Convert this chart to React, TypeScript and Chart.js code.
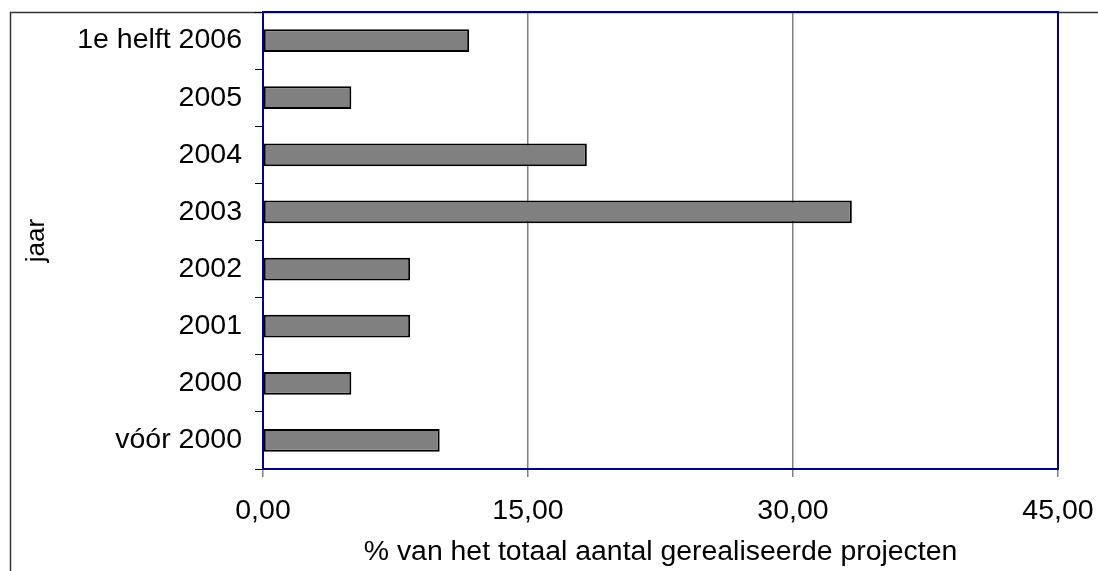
import React, { useEffect, useRef } from "react";
import { Chart, registerables } from "chart.js";

Chart.register(...registerables);

// Share of realised projects per year (percent of total)
const categories = [
  "1e helft 2006",
  "2005",
  "2004",
  "2003",
  "2002",
  "2001",
  "2000",
  "vóór 2000",
];
const shares = [11.67, 5.0, 18.33, 33.33, 8.33, 8.33, 5.0, 10.0];
const xTicks = [0, 15, 30, 45];
const xTitle = "% van het totaal aantal gerealiseerde projecten";
const yTitle = "jaar";

const FONT = "'Liberation Sans', Arial, sans-serif";

// Outer frame of the chart plus the navy plot-area frame
const framePlugin = {
  id: "frames",
  beforeDraw(chart: any) {
    const ctx = chart.ctx;
    ctx.save();
    ctx.fillStyle = "#ffffff";
    ctx.fillRect(0, 0, chart.width, chart.height);
    ctx.strokeStyle = "#333333";
    ctx.lineWidth = 1.5;
    ctx.strokeRect(10.5, 12.5, 3000, 3000);
    ctx.restore();
  },
  afterDatasetsDraw(chart: any) {
    const { ctx, chartArea } = chart;
    ctx.save();
    ctx.strokeStyle = "#000080";
    ctx.lineWidth = 2;
    ctx.strokeRect(
      chartArea.left,
      chartArea.top,
      chartArea.right - chartArea.left,
      chartArea.bottom - chartArea.top
    );
    ctx.restore();
  },
};

export default function App() {
  const canvasRef = useRef<HTMLCanvasElement | null>(null);

  useEffect(() => {
    if (!canvasRef.current) return;
    const chart = new Chart(canvasRef.current, {
      type: "bar",
      data: {
        labels: categories,
        datasets: [
          {
            data: shares,
            backgroundColor: "#808080",
            borderColor: "#000000",
            borderWidth: 2,
            borderSkipped: false,
            barPercentage: 0.4,
            categoryPercentage: 1,
          },
        ],
      },
      options: {
        indexAxis: "y",
        animation: false,
        responsive: false,
        devicePixelRatio: 1,
        layout: { padding: { top: 12, right: 40, left: 0, bottom: 0 } },
        plugins: {
          legend: { display: false },
          tooltip: { enabled: false },
        },
        scales: {
          x: {
            min: 0,
            max: 45,
            afterBuildTicks: (scale: any) => {
              scale.ticks = xTicks.map((v) => ({ value: v }));
            },
            afterFit: (scale: any) => {
              scale.height = 102;
              scale.paddingLeft = 0;
              scale.paddingRight = 0;
            },
            ticks: {
              color: "#000000",
              font: { family: FONT, size: 28.5 },
              padding: 17,
              maxRotation: 0,
              callback: (v: any) => Number(v).toFixed(2).replace(".", ","),
            },
            grid: {
              color: "#808080",
              lineWidth: 1.5,
              tickColor: "#808080",
              tickLength: 8,
            },
            border: { display: true, color: "#000080", width: 2 },
            title: {
              display: true,
              text: xTitle,
              color: "#000000",
              font: { family: FONT, size: 28.4 },
              padding: { top: 0, bottom: 2 },
            },
          },
          y: {
            afterFit: (scale: any) => {
              scale.width = 263;
              scale.paddingTop = 0;
              scale.paddingBottom = 0;
            },
            ticks: {
              color: "#000000",
              font: { family: FONT, size: 28.5 },
              padding: 13,
            },
            grid: {
              drawOnChartArea: false,
              offset: true,
              tickColor: "#000000",
              tickLength: 8,
              lineWidth: 1,
            },
            border: { display: true, color: "#000080", width: 2 },
            title: {
              display: true,
              text: yTitle,
              color: "#000000",
              font: { family: FONT, size: 26 },
              padding: { top: 21, bottom: 0 },
            },
          },
        },
      },
      plugins: [framePlugin],
    });
    return () => chart.destroy();
  }, []);

  return (
    <div style={{ position: "absolute", left: 0, top: 0, width: 1098, height: 571 }}>
      <canvas ref={canvasRef} width={1098} height={571} />
    </div>
  );
}
